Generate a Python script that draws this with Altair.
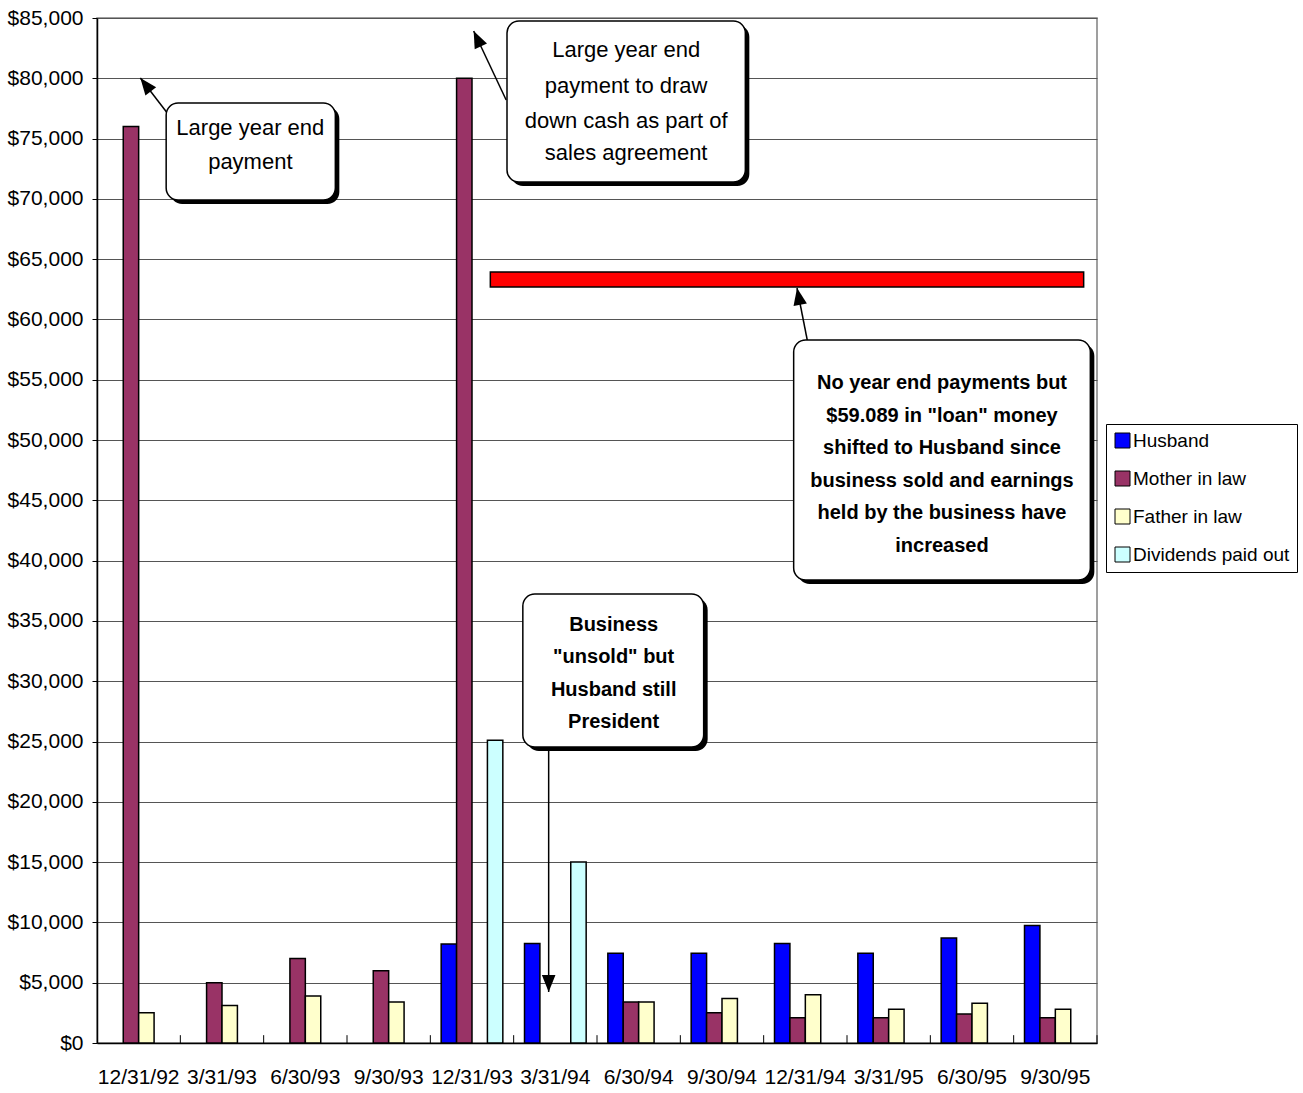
import altair as alt
import pandas as pd

FONT = "Liberation Sans"

# ---------------- data ----------------
dates = ["12/31/92", "3/31/93", "6/30/93", "9/30/93", "12/31/93", "3/31/94",
         "6/30/94", "9/30/94", "12/31/94", "3/31/95", "6/30/95", "9/30/95"]
series_names = ["Husband", "Mother in law", "Father in law", "Dividends paid out"]
series_colors = ["#0000FF", "#993366", "#FFFFCC", "#CCFFFF"]

husband = [None, None, None, None, 8200, 8250, 7450, 7450, 8250, 7450, 8700, 9750]
mother = [76000, 5000, 7000, 6000, 80000, None, 3400, 2500, 2100, 2100, 2400, 2100]
father = [2500, 3100, 3900, 3400, None, None, 3400, 3700, 4000, 2800, 3300, 2800]
dividends = [None, None, None, None, 25100, 15000, None, None, None, None, None, None]

y_ticks = list(range(0, 85001, 5000))

# annotation positions in data units (x: category index units 0..12, y: dollars)
box_x = [0.83, 4.92, 8.36, 5.11]
box_x2 = [2.86, 7.78, 11.92, 7.28]
box_y = [77950, 84750, 58300, 37230]
box_y2 = [69900, 71400, 38400, 24550]

text_lines = [
    "Large year end", "payment",
    "Large year end", "payment to draw", "down cash as part of", "sales agreement",
]
text_x = [1.84, 1.84, 6.35, 6.35, 6.35, 6.35]
text_y = [75880, 73060, 82350, 79360, 76460, 73800]

bold_lines = [
    "No year end payments  but", "$59.089 in \"loan\" money", "shifted to Husband since",
    "business sold and earnings", "held by the business have", "increased",
    "Business", "\"unsold\" but", "Husband still", "President",
]
bold_x = [10.14] * 6 + [6.2] * 4
bold_y = [54700, 52000, 49320, 46630, 43930, 41210, 34660, 32010, 29270, 26620]

red_x, red_x2, red_y, red_y2 = [4.72], [11.84], [63940], [62690]

arrow_x = [0.88, 4.91, 8.53, 5.42]
arrow_y = [76790, 78200, 58050, 24550]
arrow_x2 = [0.52, 4.52, 8.40, 5.42]
arrow_y2 = [80030, 83920, 62610, 4230]
arrow_angle = [322, 335, 349, 180]

tick_pos = list(range(1, 13))

# ---------------- tables ----------------
rows = []
for name, vals in zip(series_names, [husband, mother, father, dividends]):
    for d, v in zip(dates, vals):
        if v is not None:
            rows.append({"date": d, "series": name, "value": v})
bars_df = pd.DataFrame(rows)

boxes_df = pd.DataFrame({"x": box_x, "x2": box_x2, "y": box_y, "y2": box_y2})
text_df = pd.DataFrame({"x": text_x, "y": text_y, "t": text_lines})
bold_df = pd.DataFrame({"x": bold_x, "y": bold_y, "t": bold_lines})
red_df = pd.DataFrame({"x": red_x, "x2": red_x2, "y": red_y, "y2": red_y2})
arrow_df = pd.DataFrame({"x": arrow_x, "y": arrow_y, "x2": arrow_x2,
                         "y2": arrow_y2, "a": arrow_angle})
ticks_df = pd.DataFrame({"x": tick_pos, "y": [0] * len(tick_pos), "y2": [650] * len(tick_pos)})

# ---------------- scales ----------------
yscale = alt.Scale(domain=[0, 85000], nice=False, zero=True)
ax_scale = alt.Scale(domain=[0, 12], nice=False, zero=False)

bars = alt.Chart(bars_df).mark_bar(stroke="black", strokeWidth=1.5).encode(
    x=alt.X("date:N", sort=dates,
            scale=alt.Scale(paddingInner=0.26, paddingOuter=0.13),
            axis=alt.Axis(title=None, labelAngle=0, labelFont=FONT, labelFontSize=21,
                          labelColor="black", domainColor="black", domainWidth=1.5,
                          ticks=True, tickSize=0, labelPadding=23, grid=False)),
    xOffset=alt.XOffset("series:N", sort=series_names,
                        scale=alt.Scale(domain=series_names, paddingInner=0, paddingOuter=0)),
    y=alt.Y("value:Q", scale=yscale,
            axis=alt.Axis(title=None, values=y_ticks, format="$,.0f", labelFont=FONT,
                          labelFontSize=21, labelColor="black", domainColor="black",
                          domainWidth=1.5, tickColor="black", tickSize=5, labelPadding=9,
                          grid=True, gridColor="#555555", gridWidth=1)),
    color=alt.Color("series:N", sort=series_names,
                    scale=alt.Scale(domain=series_names, range=series_colors),
                    legend=alt.Legend(title=None, orient="none", legendX=1009, legendY=406,
                                      symbolType="square", symbolSize=225,
                                      symbolStrokeColor="black", symbolStrokeWidth=1,
                                      labelFont=FONT, labelFontSize=19, labelColor="black",
                                      labelOffset=1, labelLimit=0, rowPadding=18, padding=7,
                                      strokeColor="black", fillColor="white")),
)

def qx(field):
    return alt.X(field, type="quantitative", scale=ax_scale, axis=None)

inner_ticks = alt.Chart(ticks_df).mark_rule(color="black", strokeWidth=1).encode(
    x=qx("x"), y=alt.Y("y:Q", scale=yscale), y2="y2:Q")

red_bar = alt.Chart(red_df).mark_rect(fill="#FF0000", stroke="black", strokeWidth=1.5).encode(
    x=qx("x"), x2="x2:Q", y=alt.Y("y:Q", scale=yscale), y2="y2:Q")

arrow_lines = alt.Chart(arrow_df).mark_rule(color="black", strokeWidth=1.5).encode(
    x=qx("x"), y=alt.Y("y:Q", scale=yscale), x2="x2:Q", y2="y2:Q")

arrow_heads = alt.Chart(arrow_df).mark_point(
    shape="M0,0L-0.8,2L0.8,2Z", filled=True, fill="black", opacity=1,
    size=289, strokeWidth=0).encode(
    x=qx("x2"), y=alt.Y("y2:Q", scale=yscale), angle=alt.Angle("a:Q", scale=None))

shadows = alt.Chart(boxes_df).mark_rect(
    cornerRadius=12, fill="black", xOffset=4, x2Offset=4, yOffset=4, y2Offset=4).encode(
    x=qx("x"), x2="x2:Q", y=alt.Y("y:Q", scale=yscale), y2="y2:Q")

boxes = alt.Chart(boxes_df).mark_rect(
    cornerRadius=12, fill="white", stroke="black", strokeWidth=1.5).encode(
    x=qx("x"), x2="x2:Q", y=alt.Y("y:Q", scale=yscale), y2="y2:Q")

texts = alt.Chart(text_df).mark_text(
    font=FONT, fontSize=22, color="black", align="center", baseline="middle").encode(
    x=qx("x"), y=alt.Y("y:Q", scale=yscale), text="t:N")

bold_texts = alt.Chart(bold_df).mark_text(
    font=FONT, fontSize=20, fontWeight="bold", color="black", align="center",
    baseline="middle").encode(
    x=qx("x"), y=alt.Y("y:Q", scale=yscale), text="t:N")

chart = alt.layer(
    bars, inner_ticks, red_bar, arrow_lines, arrow_heads, shadows, boxes, texts, bold_texts
).resolve_scale(x="independent").properties(
    width=1000, height=1025,
    autosize=alt.AutoSizeParams(type="none"),
    padding={"left": 97, "top": 18, "right": 206, "bottom": 50},
    background="white",
).configure_view(stroke="#808080", strokeWidth=1.5)

chart.save("out.html", embed_options={"renderer": "svg", "actions": False})
